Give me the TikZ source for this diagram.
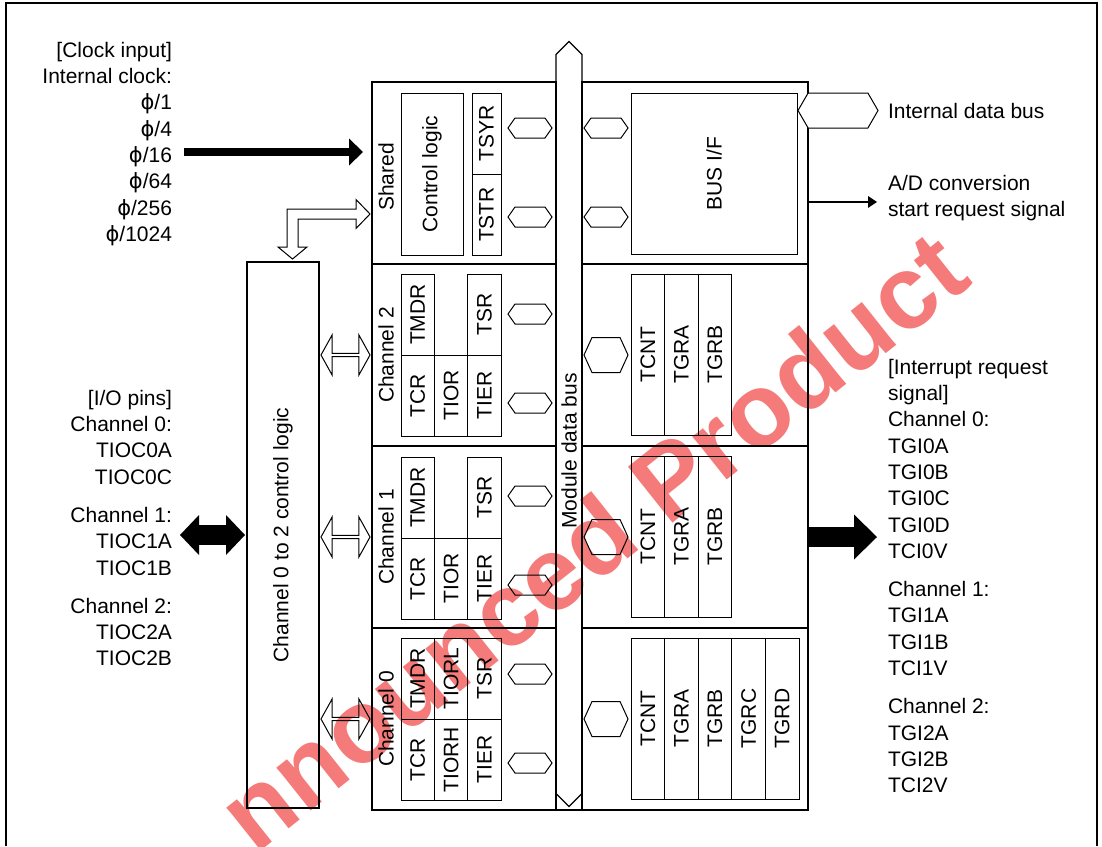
\documentclass[tikz,border=0pt]{standalone}
\usepackage{fontspec}
\setmainfont{Liberation Sans}
\newfontfamily\phifont{DejaVu Sans}
\usepackage{graphicx}
\usetikzlibrary{calc,positioning,shapes.arrows,arrows.meta}
\definecolor{stamp}{RGB}{245,122,122}
\newcommand\vlabel[1]{\rotatebox{90}{#1}}
\newcommand\clk{{\phifont ϕ}}

\begin{document}
\begin{tikzpicture}[x=1pt,y=-1pt,
  every node/.style={font=\fontsize{21}{26.3}\selectfont,inner sep=0pt,outer sep=0pt},
  sect/.style={draw,line width=1.2pt,anchor=north west},
  left sect/.style={sect,minimum width=184pt,minimum height=182pt},
  right sect/.style={sect,minimum width=226pt,minimum height=182pt},
  reg/.style={draw,line width=1pt,minimum width=33.4pt,minimum height=81pt,anchor=north west},
  counter/.style={reg,minimum width=33.6pt,minimum height=161pt},
  port/.style={draw,line width=1pt,double arrow,double arrow head extend=0pt,double arrow tip angle=110,minimum height=44pt,minimum width=20pt},
  wide port/.style={port,double arrow tip angle=131,minimum width=35pt},
  hollow/.style={draw,line width=1pt,double arrow,double arrow head extend=6pt,double arrow tip angle=122,minimum height=49pt,minimum width=40pt},
  bus/.style={draw,line width=1.2pt,double arrow,double arrow head extend=0pt,double arrow tip angle=90,minimum height=765pt,minimum width=26pt,rotate=90},
  clock arrow/.style={line width=8pt,-{Triangle[length=14pt,width=27pt,line width=0pt]}},
  irq arrow/.style={line width=20pt,-{Triangle[length=23pt,width=45pt,line width=0pt]}},
  pin arrow/.style={line width=20pt,{Triangle[length=19pt,width=40pt,line width=0pt]}-{Triangle[length=19pt,width=40pt,line width=0pt]}},
  signal arrow/.style={line width=1.3pt,-{Triangle[length=9pt,width=12pt,line width=0pt]}},
  stamp text/.style={font=\fontsize{104}{104}\selectfont\bfseries,text=stamp}]
  \useasboundingbox (0,0) rectangle (1102,846);
  \draw[line width=1.5pt] (6,846) -- (6,3) -- (1097,3) -- (1097,846);

  \node[stamp text,rotate=38.5] (stamp) at (592,540) {nnounced Product};

  % timer unit
  \node[left sect] (shared left) at (372,82) {};
  \node[right sect] (shared right) at (582,82) {};
  \node[left sect,below=0pt of shared left] (channel 2 left) {};
  \node[right sect,below=0pt of shared right] (channel 2 right) {};
  \node[left sect,below=0pt of channel 2 left] (channel 1 left) {};
  \node[right sect,below=0pt of channel 2 right] (channel 1 right) {};
  \node[left sect,below=0pt of channel 1 left] (channel 0 left) {};
  \node[right sect,below=0pt of channel 1 right] (channel 0 right) {};
  \draw[line width=1.2pt] (channel 0 left.south east) -- (channel 0 right.south west);
  \node[bus] (module bus) at ($ (shared left.north east)!.5!(channel 0 right.south west) + (0,-22) $) {};
  \node (module bus name) at ($ (module bus) + (0,27) $) {\vlabel{Module data bus}};

  \node (shared name) at ($ (shared left.west) + (14,4) $) {\vlabel{Shared}};
  \node[reg,minimum width=62pt,minimum height=162pt] (control logic) at ($ (shared left.north west) + (29,11) $) {\vlabel{Control logic}};
  \node[reg,minimum width=29pt] (tsyr) at ($ (shared left.north west) + (100,11) $) {\vlabel{TSYR}};
  \node[reg,minimum width=29pt,below=0pt of tsyr] (tstr) {\vlabel{TSTR}};
  \node[port] (shared port a) at ($ (shared left.north west) + (158,46) $) {};
  \node[port] (shared port b) at ($ (shared left.north west) + (158,135) $) {};
  \node[port] (shared port c) at ($ (shared right.north west) + (24,46) $) {};
  \node[port] (shared port d) at ($ (shared right.north west) + (24,135) $) {};
  \node[reg,minimum width=166pt,minimum height=161pt] (bus if) at ($ (shared right.north west) + (49,11) $) {\vlabel{BUS I/F}};

  \node (channel 2 name) at ($ (channel 2 left.west) + (14,0) $) {\vlabel{Channel 2}};
  \node[reg] (tmdr 2) at ($ (channel 2 left.north west) + (29,10) $) {\vlabel{TMDR}};
  \node[reg,below=0pt of tmdr 2] (tcr 2) {\vlabel{TCR}};
  \node[reg,right=0pt of tcr 2] (tior 2) {\vlabel{TIOR}};
  \node[reg,right=0pt of tior 2] (tier 2) {\vlabel{TIER}};
  \node[reg,above=0pt of tier 2] (tsr 2) {\vlabel{TSR}};
  \node[port] (port 2a) at ($ (channel 2 left.north west) + (158,50) $) {};
  \node[port] (port 2b) at ($ (channel 2 left.north west) + (158,139) $) {};
  \node[wide port] (port 2c) at ($ (channel 2 right.west) + (24,0) $) {};
  \node[counter] (tcnt 2) at ($ (channel 2 right.north west) + (49,10) $) {\vlabel{TCNT}};
  \node[counter,right=0pt of tcnt 2] (tgra 2) {\vlabel{TGRA}};
  \node[counter,right=0pt of tgra 2] (tgrb 2) {\vlabel{TGRB}};

  \node (channel 1 name) at ($ (channel 1 left.west) + (14,0) $) {\vlabel{Channel 1}};
  \node[reg] (tmdr 1) at ($ (channel 1 left.north west) + (29,11) $) {\vlabel{TMDR}};
  \node[reg,below=0pt of tmdr 1] (tcr 1) {\vlabel{TCR}};
  \node[reg,right=0pt of tcr 1] (tior 1) {\vlabel{TIOR}};
  \node[reg,right=0pt of tior 1] (tier 1) {\vlabel{TIER}};
  \node[reg,above=0pt of tier 1] (tsr 1) {\vlabel{TSR}};
  \node[port] (port 1a) at ($ (channel 1 left.north west) + (158,50) $) {};
  \node[port] (port 1b) at ($ (channel 1 left.north west) + (158,139) $) {};
  \node[wide port] (port 1c) at ($ (channel 1 right.west) + (24,0) $) {};
  \node[counter] (tcnt 1) at ($ (channel 1 right.north west) + (49,10) $) {\vlabel{TCNT}};
  \node[counter,right=0pt of tcnt 1] (tgra 1) {\vlabel{TGRA}};
  \node[counter,right=0pt of tgra 1] (tgrb 1) {\vlabel{TGRB}};

  \node (channel 0 name) at ($ (channel 0 left.west) + (14,0) $) {\vlabel{Channel 0}};
  \node[reg] (tmdr 0) at ($ (channel 0 left.north west) + (29,10) $) {\vlabel{TMDR}};
  \node[reg,right=0pt of tmdr 0] (tiorl 0) {\vlabel{TIORL}};
  \node[reg,right=0pt of tiorl 0] (tsr 0) {\vlabel{TSR}};
  \node[reg,below=0pt of tmdr 0] (tcr 0) {\vlabel{TCR}};
  \node[reg,right=0pt of tcr 0] (tiorh 0) {\vlabel{TIORH}};
  \node[reg,right=0pt of tiorh 0] (tier 0) {\vlabel{TIER}};
  \node[port] (port 0a) at ($ (channel 0 left.north west) + (158,46) $) {};
  \node[port] (port 0b) at ($ (channel 0 left.north west) + (158,135) $) {};
  \node[wide port] (port 0c) at ($ (channel 0 right.west) + (24,0) $) {};
  \node[counter] (tcnt 0) at ($ (channel 0 right.north west) + (49,10) $) {\vlabel{TCNT}};
  \node[counter,right=0pt of tcnt 0] (tgra 0) {\vlabel{TGRA}};
  \node[counter,right=0pt of tgra 0] (tgrb 0) {\vlabel{TGRB}};
  \node[counter,right=0pt of tgrb 0] (tgrc 0) {\vlabel{TGRC}};
  \node[counter,right=0pt of tgrc 0] (tgrd 0) {\vlabel{TGRD}};

  % channel control logic
  \node[sect,minimum width=72pt,minimum height=546pt] (channel logic) at ($ (shared left.south west) + (-125,-2) $) {\vlabel{Channel 0 to 2 control logic}};
  \node[hollow] (link 2) at ($ (channel logic.east |- channel 2 left.west)!.5!(channel 2 left.west) $) {};
  \node[hollow] (link 1) at ($ (channel logic.east |- channel 1 left.west)!.5!(channel 1 left.west) $) {};
  \node[hollow] (link 0) at ($ (channel logic.east |- channel 0 left.west)!.5!(channel 0 left.west) $) {};
  \coordinate (bend head) at ($ (shared left.west) + (-2,41) $);
  \coordinate (bend tail) at ($ (channel logic.north) + (9.5,-3) $);
  \draw[line width=1pt] (bend head) -- ++(-14,-14.5) -- ++(0,9.5) -| ($ (bend tail) + (-5.5,-12) $) -- ++(-9,0)
    -- (bend tail) -- ++(14.5,-12) -- ++(-9,0) |- ($ (bend head) + (-14,5) $) -- ++(0,9.5) -- cycle;

  % outside signals
  \node[align=right,anchor=north east] (clock text) at (172,42) {[Clock input]\\Internal clock:\\\clk/1\\\clk/4\\\clk/16\\\clk/64\\\clk/256\\\clk/1024};
  \node[align=right,anchor=north east] (pin text) at (172,390) {[I/O pins]\\Channel 0:\\TIOC0A\\TIOC0C\\[12pt]Channel 1:\\TIOC1A\\TIOC1B\\[12pt]Channel 2:\\TIOC2A\\TIOC2B};
  \node[align=left,anchor=north west] (irq text) at (888,359) {[Interrupt request\\signal]\\Channel 0:\\TGI0A\\TGI0B\\TGI0C\\TGI0D\\TCI0V\\[12pt]Channel 1:\\TGI1A\\TGI1B\\TCI1V\\[12pt]Channel 2:\\TGI2A\\TGI2B\\TCI2V};
  \node[align=left,anchor=north west] (ad text) at (888,175) {A/D conversion\\start request signal};
  \node[port,fill=white,minimum height=80pt,minimum width=35pt,double arrow tip angle=120] (data bus) at ($ (shared right.north east) + (30,28.5) $) {};
  \node[right=10pt of data bus] (data bus text) {Internal data bus};

  \coordinate (clock end) at ($ (shared left.west) + (-9,-21) $);
  \coordinate (ad tip) at ($ (ad text.west) + (-11,4) $);
  \draw[clock arrow,shorten <=12pt] (clock end -| clock text.east) -- (clock end);
  \draw[signal arrow] (ad tip -| shared right.east) -- (ad tip);
  \draw[irq arrow,shorten >=11pt] (channel 1 right.east) -- (channel 1 right.east -| irq text.west);
  \draw[pin arrow,shorten <=8pt,shorten >=2pt] (channel logic.west -| pin text.east) -- (channel logic.west);
\end{tikzpicture}
\end{document}
